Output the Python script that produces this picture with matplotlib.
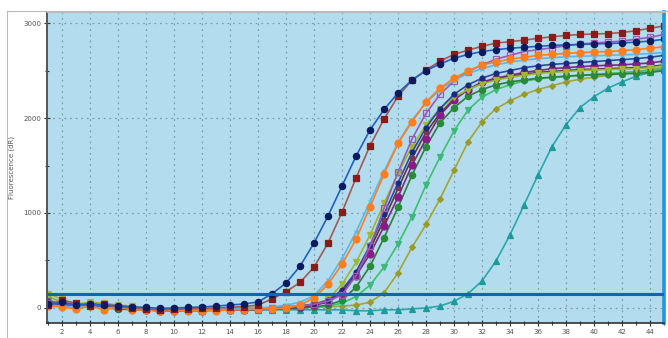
import matplotlib
matplotlib.use("Agg")
from matplotlib import pyplot as plt
from matplotlib.lines import Line2D
from matplotlib.ticker import MultipleLocator

cycles = list(range(1, 46))

navy = [40, 60, 30, 45, 30, 25, 10, 5, -5, 0, 5, 10, 20, 30,
        42, 63, 150, 263, 440, 685, 970, 1285, 1600, 1875, 2090, 2265, 2400, 2500,
        2570, 2630, 2670, 2700, 2720, 2735, 2745, 2755, 2765, 2770, 2775, 2780,
        2785, 2790, 2800, 2810, 2830]
red = [30, 80, 50, 20, 40, 10, 0, -10, -20, -15, -10, -5, 0, 5, 15, 30,
       95, 170, 270, 430, 685, 1010, 1370, 1710, 1990, 2230, 2400, 2505, 2600,
       2670, 2715, 2755, 2790, 2805, 2820, 2840, 2855, 2870, 2880, 2885, 2890,
       2900, 2920, 2945, 2970]
orange = [20, 10, -10, 20, -20, 15, -20, -20, -30, -30, -30, -30, -30, -20, -20,
          -10, -10, 0, 30,
          105, 250, 460, 725, 1065, 1410, 1735, 1960, 2170, 2315, 2420, 2495, 2560,
          2590, 2620, 2640, 2660, 2670, 2680, 2690, 2695, 2700, 2710, 2720, 2735, 2750]
purple = [50, 60, 20, 40, 30, 10, 0, -10, -10, -20, -10, -20, -10, -10, 0, -10,
          0, 10, 20, 40, 70,
          140, 340, 650, 1050, 1430, 1780, 2050, 2250, 2390, 2490, 2560, 2620, 2660,
          2700, 2720, 2740, 2760, 2780, 2790, 2800, 2810, 2830, 2850, 2880]
yellowgreen = [150, 90, 40, 60, 50, 30, 20, 0, -10, -10, -20, -20, -10, -10, -5,
               0, 0, 10, 20, 40,
               90, 250, 480, 770, 1100, 1420, 1700, 1930, 2100, 2220, 2300, 2360,
               2400, 2430, 2450, 2470, 2480, 2490, 2500, 2505, 2510, 2515, 2520,
               2530, 2550]
magenta = [60, 40, 20, 30, 10, 0, -10, -20, -30, -30, -20, -30, -20, -20, -20,
           -10, -10, 0, 10, 30,
           60, 160, 340, 570, 860, 1170, 1505, 1780, 2030, 2190, 2300, 2380, 2420,
           2450, 2480, 2500, 2520, 2530, 2540, 2550, 2555, 2560, 2570, 2580, 2600]
green = [80, 50, 30, 40, 20, 10, 0, -10, -20, -20, -20, -30, -20, -20, -20, -20,
         -10, -10, 0, 10, 20,
         50, 120, 240, 430, 675, 960, 1295, 1590, 1865, 2085, 2220, 2300, 2350,
         2390, 2410, 2430, 2440, 2450, 2460, 2470, 2480, 2490, 2500, 2520]
olive = [120, 60, 40, 50, 30, 20, 10, 0, -10, -10, -20, -20, -20, -20, -10, -10,
         -10, 0, 0, 10, 10, 20, 30,
         60, 160, 370, 640, 880, 1150, 1450, 1750, 1960, 2100, 2180, 2250, 2300,
         2340, 2380, 2410, 2430, 2450, 2470, 2490, 2510, 2530]
teal = [60, 40, 20, 30, 10, 0, -10, -10, -20, -20, -20, -30, -20, -20, -20, -20,
        -20, -20, -20, -20, -20, -20, -30, -30, -20, -20, -10,
        0, 20, 70, 150, 285, 495, 770, 1085, 1400, 1700, 1930, 2110, 2225, 2315,
        2380, 2440, 2480, 2520]
darkgreen = [40, 30, 10, 20, 0, -10, -20, -20, -30, -30, -30, -30, -20, -20, -20,
             -20, -10, -10, 0, 10, 30,
             80, 220, 440, 740, 1060, 1400, 1700, 1950, 2110, 2230, 2300, 2350,
             2380, 2400, 2420, 2430, 2440, 2450, 2455, 2460, 2465, 2470, 2480, 2500]
steelblue = [50, 30, 40, 20, 20, 0, -10, -10, -20, -20, -10, -20, -10, -10, 0, 0,
             0, 10, 20, 40,
             80, 190, 380, 660, 990, 1320, 1640, 1900, 2100, 2250, 2350, 2420, 2470,
             2500, 2530, 2550, 2565, 2575, 2585, 2595, 2605, 2615, 2625, 2640, 2660]
lightblue = [30, 20, 10, 10, 0, 0, -10, -10, -10, -20, -20, -10, -10, -10, 0, 0,
             10, 30, 60,
             130, 290, 520, 800, 1120, 1440, 1740, 1980, 2160, 2300, 2400, 2470,
             2520, 2560, 2590, 2610, 2625, 2635, 2645, 2650, 2655, 2660, 2665, 2670,
             2680, 2690]
brown = [70, 40, 30, 30, 20, 10, 0, -10, -20, -20, -20, -20, -20, -10, -10, -10,
         0, 0, 10, 30,
         70, 170, 360, 620, 930, 1260, 1580, 1850, 2050, 2200, 2300, 2370, 2410,
         2440, 2460, 2480, 2490, 2500, 2510, 2515, 2520, 2525, 2530, 2540, 2560]

threshold = 150

fig = plt.figure(figsize=(6.68, 3.38), dpi=100)
ax = fig.add_axes([0.070, 0.044, 0.924, 0.920])
ax.set_facecolor('#b3dcef')

# (data, line colour, marker, face colour, marker size)
series = [
    (teal, '#2aa8a8', '^', '#1f9a9a', 4.0),
    (olive, '#a3a533', 'D', '#9a9a2a', 3.0),
    (green, '#3cbf6e', 'v', '#3cb878', 4.5),
    (darkgreen, '#2e7d3a', 'o', '#2a8a3a', 4.5),
    (brown, '#5a3a30', 's', '#7a3a4a', 3.5),
    (magenta, '#7a2a7a', 'o', '#8a1a8a', 5.0),
    (yellowgreen, '#9ab82e', 'v', '#a0b830', 5.0),
    (steelblue, '#2a4aa0', 'o', '#1a2a7a', 3.5),
    (purple, '#9a5ab8', 's', 'none', 4.5),
    (lightblue, '#5cb8e6', 'x', '#5cb8e6', 3.0),
    (orange, '#ff7f1e', 'o', '#ff7f1e', 5.0),
    (red, '#a05a52', 's', '#8b1a1a', 4.5),
    (navy, '#2060c0', 'o', '#0a1a5c', 4.5),
]
for vals, lc, mk, fc, ms in series:
    ec = lc if fc == 'none' else fc
    ax.plot(cycles, vals, color=lc, lw=1.2, marker=mk, markersize=ms,
            markerfacecolor=fc, markeredgecolor=ec, markeredgewidth=0.9)

ax.axhline(threshold, color='#1664b0', lw=2.2, zorder=5)

ax.set_xlim(0.9, 45)
ax.set_ylim(-160, 3115)
ax.xaxis.set_major_locator(MultipleLocator(2))
ax.xaxis.set_minor_locator(MultipleLocator(1))
ax.yaxis.set_major_locator(MultipleLocator(1000))
ax.yaxis.set_minor_locator(MultipleLocator(500))
ax.grid(True, which='major', color='#7f9fae', linestyle=(0, (1.5, 3)), lw=0.9)
ax.set_axisbelow(True)

ax.tick_params(which='both', direction='inout', colors='#333333',
               labelsize=5, pad=2)
ax.tick_params(which='major', length=4, width=0.8)
ax.tick_params(which='minor', length=3, width=0.8)
ax.tick_params(axis='x', labelcolor='#555555')
ax.tick_params(axis='y', labelcolor='#555555')

ax.spines['left'].set_color('#555555')
ax.spines['left'].set_linewidth(1.4)
ax.spines['bottom'].set_color('#333333')
ax.spines['bottom'].set_linewidth(1.2)
ax.spines['top'].set_color('#bbbbbb')
ax.spines['top'].set_linewidth(0.8)
ax.spines['right'].set_color('#1a9be0')
ax.spines['right'].set_linewidth(2.6)

ax.set_ylabel('Fluorescence (dR)', fontsize=5, color='#555555', labelpad=6)

fig.add_artist(Line2D([0.0105, 0.0105], [0.0, 0.967], transform=fig.transFigure,
                      color='#bbbbbb', lw=0.8))
fig.add_artist(Line2D([0.0105, 1.0], [0.967, 0.967], transform=fig.transFigure,
                      color='#bbbbbb', lw=0.8))

fig.savefig('out.png', dpi=100)
